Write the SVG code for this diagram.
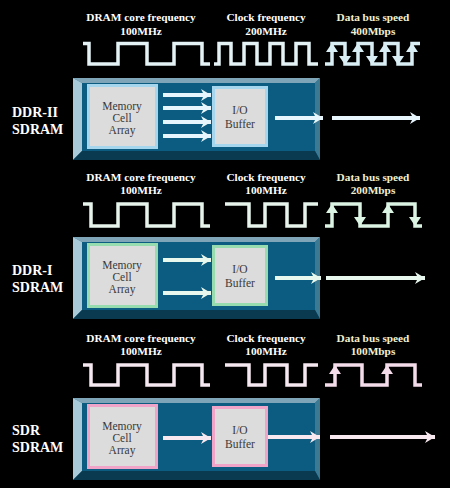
<svg xmlns="http://www.w3.org/2000/svg" width="450" height="488" viewBox="0 0 450 488">
<defs>
<style>
.title{font-family:"Liberation Serif","Times New Roman",serif;font-weight:bold;font-size:11.3px;fill:#ffffff;text-anchor:middle}
.dtitle{fill:#eef0d4}
.lbl{font-family:"Liberation Serif","Times New Roman",serif;font-weight:bold;font-size:14px;fill:#ffffff}
.inner{font-family:"Liberation Serif","Times New Roman",serif;font-size:11.5px;fill:#3a3a3a;text-anchor:middle}
.wave{fill:none;stroke-width:3.5;stroke-linejoin:miter}
.face{fill:#0b5c80}
.bt{fill:#7ea6b8}
.bl{fill:#a9cad8}
.br{fill:#3c7a94}
.bb{fill:#0a3a50}
.cell{fill:#dcdcdc;stroke-width:3}
.arr{stroke-width:4;fill:none}
</style>
<marker id="ah1" markerUnits="userSpaceOnUse" markerWidth="14" markerHeight="14" refX="10" refY="7" orient="auto"><path d="M0,1 L10,7 L0,13 L3,7 Z" fill="#e6f6fc"/></marker>
<marker id="ah2" markerUnits="userSpaceOnUse" markerWidth="14" markerHeight="14" refX="10" refY="7" orient="auto"><path d="M0,1 L10,7 L0,13 L3,7 Z" fill="#e8f8ee"/></marker>
<marker id="ah3" markerUnits="userSpaceOnUse" markerWidth="14" markerHeight="14" refX="10" refY="7" orient="auto"><path d="M0,1 L10,7 L0,13 L3,7 Z" fill="#f8e8f0"/></marker>
<g id="chip">
<rect x="73" y="78" width="247" height="82" class="face"/>
<polygon points="73,78 320,78 315,83 82,83" class="bt"/>
<polygon points="73,78 82,83 82,151 73,160" class="bl"/>
<polygon points="320,78 320,160 315,151 315,83" class="br"/>
<polygon points="73,160 82,151 315,151 320,160" class="bb"/>
</g>
</defs>
<rect x="0" y="0" width="450" height="488" fill="#000000"/>

<!-- ===== DDR-II ===== -->
<g id="ddr2-titles">
<text class="title" x="141" y="21">DRAM core frequency</text>
<text class="title" x="141" y="35">100MHz</text>
<text class="title" x="266" y="21">Clock frequency</text>
<text class="title" x="266" y="35">200MHz</text>
<text class="title dtitle" x="373" y="21">Data bus speed</text>
<text class="title dtitle" x="373" y="35">400Mbps</text>
</g>
<g id="ddr2-core-wave"><path class="wave" stroke="#e4f2f6" d="M83,43.5 H89 V64 H118 V43.5 H147 V64 H174 V43.5 H202 V64 H210"/></g>
<g id="ddr2-clock-wave"><path class="wave" stroke="#e4f2f6" d="M214,64 H219 V43.5 H231 V64 H244 V43.5 H257 V64 H270 V43.5 H283 V64 H296 V43.5 H309 V64 H318"/></g>
<g id="ddr2-data-wave"><path class="wave" stroke="#d8eef4" d="M325,64 H332 V43.5 H345 V64 H358 V43.5 H372 V64 H385 V43.5 H398 V64 H412 V43.5 H420"/>
<g fill="#d8eef4"><path d="M326,52 L332,43 L338,52 Z"/><path d="M352,52 L358,43 L364,52 Z"/><path d="M379,52 L385,43 L391,52 Z"/><path d="M406,52 L412,43 L418,52 Z"/>
<path d="M339,56 L345,65 L351,56 Z"/><path d="M366,56 L372,65 L378,56 Z"/><path d="M392,56 L398,65 L404,56 Z"/></g></g>
<g id="ddr2-label"><text class="lbl" x="12" y="117">DDR-II</text><text class="lbl" x="12" y="134">SDRAM</text></g>
<g id="ddr2-chip"><use href="#chip"/></g>
<g id="ddr2-cell"><rect class="cell" stroke="#a6d6ee" x="88.5" y="85.5" width="68" height="62"/>
<text class="inner" x="122" y="110">Memory</text><text class="inner" x="122" y="122">Cell</text><text class="inner" x="122" y="134">Array</text></g>
<g id="ddr2-io"><rect class="cell" stroke="#a6d6ee" x="213.5" y="87.5" width="53" height="58"/>
<text class="inner" x="240" y="114">I/O</text><text class="inner" x="240" y="128">Buffer</text></g>

<!-- ===== DDR-I ===== -->
<g transform="translate(0,159)">
<g id="ddr1-titles">
<text class="title" x="141" y="22">DRAM core frequency</text>
<text class="title" x="141" y="35">100MHz</text>
<text class="title" x="266" y="22">Clock frequency</text>
<text class="title" x="266" y="35">100MHz</text>
<text class="title dtitle" x="373" y="22">Data bus speed</text>
<text class="title dtitle" x="373" y="35">200Mbps</text>
</g>
<g id="ddr1-core-wave"><path class="wave" stroke="#e6f4ec" d="M83,45 H91 V67 H118 V45 H147 V67 H174 V45 H202 V67 H210"/></g>
<g id="ddr1-clock-wave"><path class="wave" stroke="#e6f4ec" d="M225,45 H249 V67 H265 V45 H287 V67 H305 V45 H318"/></g>
<g id="ddr1-data-wave"><path class="wave" stroke="#dcf4e4" d="M325,67 H332 V45 H360 V67 H388 V45 H415 V67 H422"/>
<g fill="#dcf4e4"><path d="M326,54 L332,45 L338,54 Z"/><path d="M382,54 L388,45 L394,54 Z"/>
<path d="M354,58 L360,67 L366,58 Z"/><path d="M409,58 L415,67 L421,58 Z"/></g></g>
<g id="ddr1-label"><text class="lbl" x="12" y="116">DDR-I</text><text class="lbl" x="12" y="133">SDRAM</text></g>
<g id="ddr1-chip"><use href="#chip"/></g>
<g id="ddr1-cell"><rect class="cell" stroke="#96dcae" x="88.5" y="85.5" width="68" height="62"/>
<text class="inner" x="122" y="110">Memory</text><text class="inner" x="122" y="122">Cell</text><text class="inner" x="122" y="134">Array</text></g>
<g id="ddr1-io"><rect class="cell" stroke="#96dcae" x="213.5" y="87.5" width="53" height="58"/>
<text class="inner" x="240" y="114">I/O</text><text class="inner" x="240" y="128">Buffer</text></g>
</g>

<!-- ===== SDR ===== -->
<g transform="translate(0,320)">
<g id="sdr-titles">
<text class="title" x="141" y="22">DRAM core frequency</text>
<text class="title" x="141" y="35">100MHz</text>
<text class="title" x="266" y="22">Clock frequency</text>
<text class="title" x="266" y="35">100MHz</text>
<text class="title dtitle" x="373" y="22">Data bus speed</text>
<text class="title dtitle" x="373" y="35">100Mbps</text>
</g>
<g id="sdr-core-wave"><path class="wave" stroke="#f6e8f0" d="M83,45 H91 V65 H118 V45 H147 V65 H174 V45 H202 V65 H210"/></g>
<g id="sdr-clock-wave"><path class="wave" stroke="#f6e8f0" d="M225,45 H249 V65 H265 V45 H287 V65 H305 V45 H318"/></g>
<g id="sdr-data-wave"><path class="wave" stroke="#f4dcea" d="M325,65 H335 V45 H362 V65 H387 V45 H415 V65 H422"/>
<g fill="#f4dcea"><path d="M329,54 L335,45 L341,54 Z"/><path d="M381,54 L387,45 L393,54 Z"/></g></g>
<g id="sdr-label"><text class="lbl" x="12" y="115">SDR</text><text class="lbl" x="12" y="132">SDRAM</text></g>
<g id="sdr-chip"><use href="#chip"/></g>
<g id="sdr-cell"><rect class="cell" stroke="#f0a4c8" x="88.5" y="85.5" width="68" height="62"/>
<text class="inner" x="122" y="110">Memory</text><text class="inner" x="122" y="122">Cell</text><text class="inner" x="122" y="134">Array</text></g>
<g id="sdr-io"><rect class="cell" stroke="#f0a4c8" x="213.5" y="87.5" width="53" height="58"/>
<text class="inner" x="240" y="114">I/O</text><text class="inner" x="240" y="128">Buffer</text></g>
</g>

<!-- ===== connectors ===== -->
<g id="connectors" class="arr">
<g stroke="#e6f6fc" marker-end="url(#ah1)">
<line x1="163" y1="95" x2="211" y2="95"/>
<line x1="163" y1="108" x2="211" y2="108"/>
<line x1="163" y1="122" x2="211" y2="122"/>
<line x1="163" y1="136" x2="211" y2="136"/>
<line x1="275" y1="118" x2="323" y2="118"/>
<line x1="332" y1="118" x2="420" y2="118"/>
</g>
<g stroke="#e8f8ee" marker-end="url(#ah2)">
<line x1="163" y1="260" x2="211" y2="260"/>
<line x1="163" y1="293" x2="211" y2="293"/>
<line x1="275" y1="278" x2="321" y2="278"/>
<line x1="326" y1="278" x2="425" y2="278"/>
</g>
<g stroke="#f8e8f0" marker-end="url(#ah3)">
<line x1="163" y1="438" x2="211" y2="438"/>
<line x1="268" y1="437" x2="320" y2="437"/>
<line x1="330" y1="437" x2="435" y2="437"/>
</g>
</g>
</svg>
